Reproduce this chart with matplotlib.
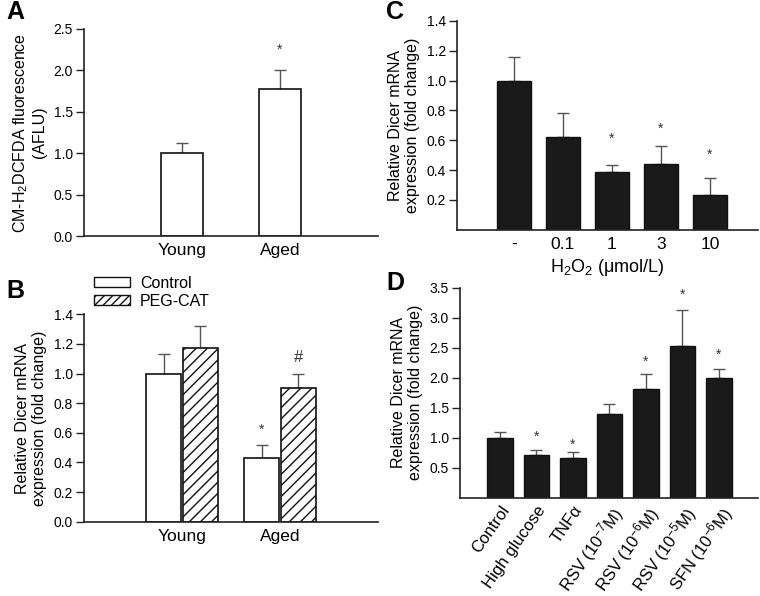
import matplotlib
matplotlib.use("Agg")
import matplotlib.pyplot as plt
import numpy as np
from matplotlib.patches import Patch

plt.rcParams['font.family'] = ['Liberation Sans', 'DejaVu Sans']
plt.rcParams['mathtext.fontset'] = 'custom'
plt.rcParams['mathtext.rm'] = 'Liberation Sans'
plt.rcParams['mathtext.it'] = 'Liberation Sans:italic'
plt.rcParams['mathtext.bf'] = 'Liberation Sans:bold'
plt.rcParams['hatch.linewidth'] = 1.0

# ---- Data ----
a_cats = ["Young", "Aged"]
a_vals = [1.0, 1.77]
a_errs = [0.12, 0.23]
a_marks = ["", "*"]
a_mark_y = [None, 2.25]

b_cats = ["Young", "Aged"]
b_ctrl = [1.0, 0.43]
b_ctrl_err = [0.13, 0.09]
b_peg = [1.17, 0.90]
b_peg_err = [0.15, 0.10]
b_ctrl_marks = ["", "*"]
b_ctrl_mark_y = [None, 0.62]
b_peg_marks = ["", "#"]
b_peg_mark_y = [None, 1.11]

c_cats = ["-", "0.1", "1", "3", "10"]
c_vals = [1.0, 0.625, 0.385, 0.44, 0.235]
c_errs = [0.16, 0.16, 0.05, 0.12, 0.115]
c_marks = ["", "", "*", "*", "*"]
c_mark_y = [None, None, 0.61, 0.68, 0.50]

d_cats = ["Control", "High glucose", "TNF\u03b1", "RSV (10$^{-7}$M)",
          "RSV (10$^{-6}$M)", "RSV (10$^{-5}$M)", "SFN (10$^{-6}$M)"]
d_vals = [1.0, 0.72, 0.66, 1.39, 1.82, 2.53, 2.0]
d_errs = [0.09, 0.08, 0.11, 0.18, 0.25, 0.60, 0.15]
d_marks = ["", "*", "*", "", "*", "*", "*"]
d_mark_y = [None, 1.02, 0.89, None, 2.27, 3.38, 2.38]

W, H = 760, 596
fig = plt.figure(figsize=(7.6, 5.96), dpi=100)

def px_axes(x0, x1, ytop, ybot):
    return fig.add_axes([x0 / W, 1 - ybot / H, (x1 - x0) / W, (ybot - ytop) / H])

AX_COLOR = '#222222'
ERR_COLOR = '#555555'
YLAB_FS = 11.5
XTICK_FS = 12.5

def style(ax):
    for s in ['top', 'right']:
        ax.spines[s].set_visible(False)
    for s in ['left', 'bottom']:
        ax.spines[s].set_linewidth(1.2)
        ax.spines[s].set_color(AX_COLOR)
    ax.tick_params(axis='y', direction='out', length=6, width=1.0, color=AX_COLOR,
                   labelsize=10, pad=2)
    ax.tick_params(axis='x', length=0, labelsize=XTICK_FS, pad=5)

def draw_err(ax, x, v, e):
    ax.errorbar(x, v, yerr=[np.zeros(len(v)), e], fmt='none', ecolor=ERR_COLOR,
                elinewidth=1.0, capsize=4, capthick=1.0, zorder=1)

def star(ax, x, y, m, fs=10):
    ax.text(x, y, m, ha='center', va='center', fontsize=fs, color='#333333')

# ---- Panel A ----
axA = px_axes(84, 378, 29, 236)
xa = np.arange(1, len(a_cats) + 1)
draw_err(axA, xa, a_vals, a_errs)
axA.bar(xa, a_vals, width=0.42, color='white', edgecolor='#111111', linewidth=1.2, zorder=2)
for xi, m, my in zip(xa, a_marks, a_mark_y):
    if m:
        star(axA, xi, my, m)
axA.set_xlim(0, 3)
axA.set_ylim(0, 2.5)
axA.set_yticks(np.arange(0, 2.51, 0.5))
axA.set_yticklabels([f"{t:.1f}" for t in np.arange(0, 2.51, 0.5)])
axA.set_xticks(xa)
axA.set_xticklabels(a_cats)
axA.set_ylabel("CM-H$_2$DCFDA fluorescence\n(AFLU)", fontsize=YLAB_FS, labelpad=5, linespacing=1.1)
style(axA)

# ---- Panel B ----
axB = px_axes(84, 378, 314.3, 521.7)
xb = np.arange(1, len(b_cats) + 1)
bw = 0.355
off = 0.185
draw_err(axB, xb - off, b_ctrl, b_ctrl_err)
draw_err(axB, xb + off, b_peg, b_peg_err)
axB.bar(xb - off, b_ctrl, width=bw, color='white', edgecolor='#111111', linewidth=1.2, zorder=2)
axB.bar(xb + off, b_peg, width=bw, color='white', edgecolor='#111111', linewidth=1.2,
        hatch='///', zorder=2)
for xi, m, my in zip(xb - off, b_ctrl_marks, b_ctrl_mark_y):
    if m:
        star(axB, xi, my, m)
for xi, m, my in zip(xb + off, b_peg_marks, b_peg_mark_y):
    if m:
        star(axB, xi, my, m, fs=12)
axB.set_xlim(0, 3)
axB.set_ylim(0, 1.4)
axB.set_yticks(np.arange(0, 1.41, 0.2))
axB.set_yticklabels([f"{t:.1f}" for t in np.arange(0, 1.41, 0.2)])
axB.set_xticks(xb)
axB.set_xticklabels(b_cats)
axB.set_ylabel("Relative Dicer mRNA\nexpression (fold change)", fontsize=YLAB_FS, labelpad=5,
               linespacing=1.1)
style(axB)
handles = [Patch(facecolor='white', edgecolor='#111111', linewidth=1.0),
           Patch(facecolor='white', edgecolor='#111111', linewidth=1.0, hatch='////')]
fig.legend(handles, ["Control", "PEG-CAT"], loc='upper left',
           bbox_to_anchor=(92 / W, 1 - 274 / H), frameon=False, fontsize=11.5,
           handlelength=2.3, handleheight=0.55, labelspacing=0.2, handletextpad=0.6,
           borderpad=0.1, borderaxespad=0)

# ---- Panel C ----
axC = px_axes(457, 758, 21, 229.8)
xc = np.arange(len(c_cats))
draw_err(axC, xc, c_vals, c_errs)
axC.bar(xc, c_vals, width=0.69, color='#1a1a1a', edgecolor='#111111', linewidth=1.0, zorder=2)
for xi, m, my in zip(xc, c_marks, c_mark_y):
    if m:
        star(axC, xi, my, m)
axC.set_xlim(-1.163, 4.98)
axC.set_ylim(0, 1.4)
axC.set_yticks(np.arange(0.2, 1.41, 0.2))
axC.set_yticklabels([f"{t:.1f}" for t in np.arange(0.2, 1.41, 0.2)])
axC.set_xticks(xc)
axC.set_xticklabels(c_cats)
axC.set_xlabel("H$_2$O$_2$ (\u03bcmol/L)", fontsize=13, labelpad=4)
axC.set_ylabel("Relative Dicer mRNA\nexpression (fold change)", fontsize=YLAB_FS, labelpad=5,
               linespacing=1.1)
style(axC)

# ---- Panel D ----
axD = px_axes(460, 758, 287.7, 497.7)
xd = np.arange(len(d_cats))
draw_err(axD, xd, d_vals, d_errs)
axD.bar(xd, d_vals, width=0.71, color='#1a1a1a', edgecolor='#111111', linewidth=1.0, zorder=2)
for xi, m, my in zip(xd, d_marks, d_mark_y):
    if m:
        star(axD, xi, my, m)
axD.set_xlim(-1.096, 7.07)
axD.set_ylim(0, 3.5)
axD.set_yticks(np.arange(0.5, 3.51, 0.5))
axD.set_yticklabels([f"{t:.1f}" for t in np.arange(0.5, 3.51, 0.5)])
axD.set_xticks(xd)
axD.set_xticklabels(d_cats, rotation=55, ha='right', rotation_mode='anchor')
axD.set_ylabel("Relative Dicer mRNA\nexpression (fold change)", fontsize=YLAB_FS, labelpad=5,
               linespacing=1.1)
style(axD)
axD.tick_params(axis='x', pad=4, labelsize=12)

# ---- Panel letters ----
for lab, x, y in [("A", 6, 0), ("B", 6, 279), ("C", 386, 0), ("D", 386, 271)]:
    fig.text(x / W, 1 - y / H, lab, fontsize=18, fontweight='bold', ha='left', va='top')

fig.savefig("out.png", dpi=100)
